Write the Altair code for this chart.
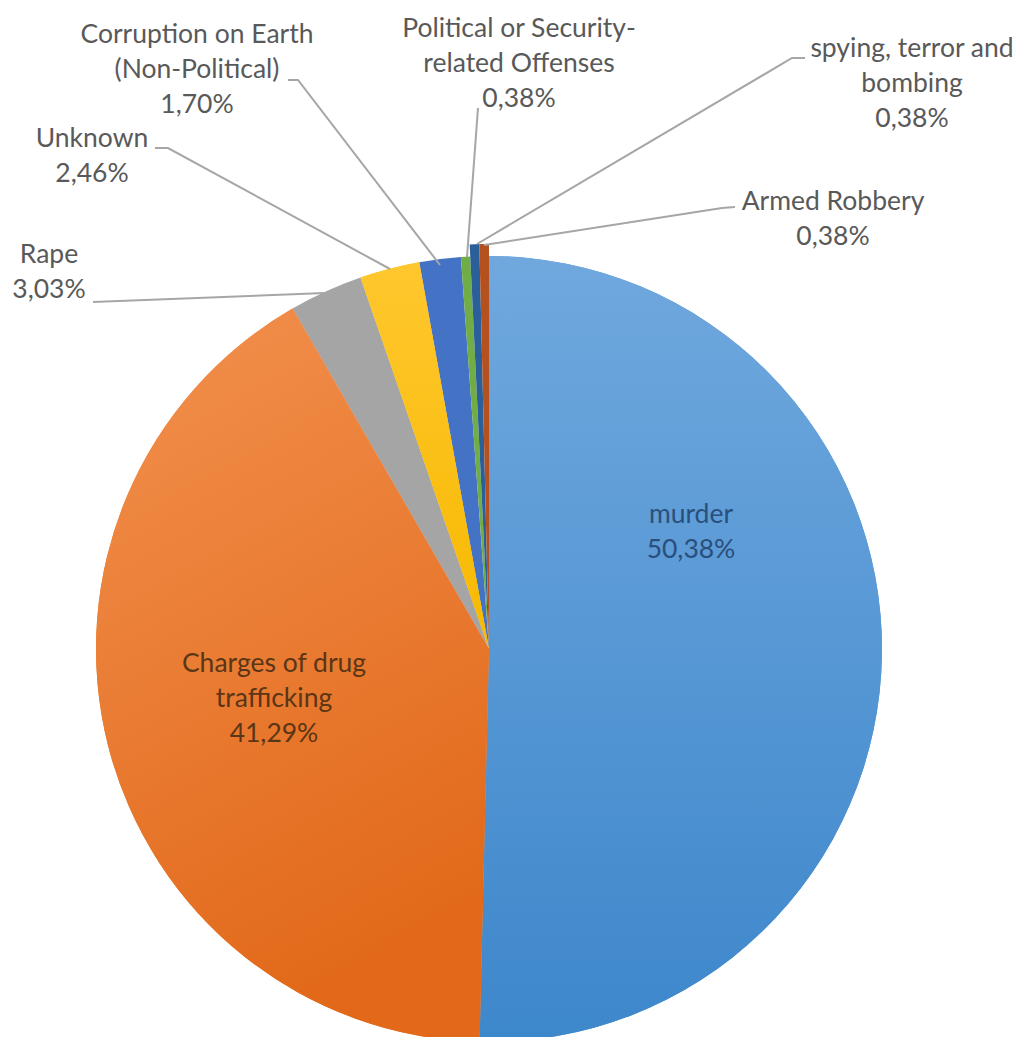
import altair as alt
import pandas as pd

# ---------------- data ----------------
categories = [
    "murder",
    "Charges of drug trafficking",
    "Rape",
    "Unknown",
    "Corruption on Earth (Non-Political)",
    "Political or Security-related Offenses",
    "spying, terror and bombing",
    "Armed Robbery",
]
shares = [50.38, 41.29, 3.03, 2.46, 1.70, 0.38, 0.38, 0.38]
label_lines = [
    ["murder"],
    ["Charges of drug", "trafficking"],
    ["Rape"],
    ["Unknown"],
    ["Corruption on Earth", "(Non-Political)"],
    ["Political or Security-", "related Offenses"],
    ["spying, terror and", "bombing"],
    ["Armed Robbery"],
]

# ---------------- styles / layout ----------------
colors = ["#5b9bd5", "#ed7d31", "#a5a5a5", "#ffc000", "#4472c4", "#70ad47", "#2b5f9a", "#b5501f"]
OFF = 8  # page margin
CX, CY, R = 489 - OFF, 649 - OFF, 393
EXPLODE = 12
FONT = "Lato"
FS = 26.5
LH = 35

# label anchors: centre x, first-line baseline y (page coords)
label_x = [691, 274, 49, 92, 197, 519, 912, 833]
label_y = [523, 672, 263, 147, 43, 37, 57, 210]
label_color = ["#2a4f7c", "#5a3516", "#595959", "#595959", "#595959", "#595959", "#595959", "#595959"]

# leader lines (page coords), per category index
leaders = {
    2: [(93, 302), (325, 293)],
    3: [(155, 148), (168, 148), (390, 269)],
    4: [(288, 80), (298, 80), (440, 265)],
    5: [(478, 108), (467, 257)],
    6: [(805, 58), (792, 58), (477, 244)],
    7: [(735, 207), (722, 208), (484, 245)],
}

pie_df = pd.DataFrame({"name": categories, "share": shares, "idx": list(range(len(categories)))})
total = sum(shares)

lab_rows = []
for i, (name, lines, v) in enumerate(zip(categories, label_lines, shares)):
    pct = f"{v:.2f}".replace(".", ",") + "%"
    lab_rows.append({
        "name": name,
        "text": lines + [pct],
        "x": label_x[i] - OFF,
        "y": label_y[i] - OFF,
        "tc": label_color[i],
    })
lab_df = pd.DataFrame(lab_rows)

line_rows = []
for i, pts in leaders.items():
    for s, (px, py) in enumerate(pts):
        line_rows.append({"id": categories[i], "seq": s, "x": px - OFF, "y": py - OFF})
line_df = pd.DataFrame(line_rows)

grad_blue = {
    "gradient": "linear", "x1": 0, "y1": 0, "x2": 0, "y2": 1,
    "stops": [{"offset": 0, "color": "#70a8de"}, {"offset": 1, "color": "#3d87cb"}],
}
grad_orange = {
    "gradient": "linear", "x1": 0, "y1": 0, "x2": 0.3, "y2": 1,
    "stops": [{"offset": 0, "color": "#f2914f"}, {"offset": 1, "color": "#e2691a"}],
}
grad_gold = {
    "gradient": "linear", "x1": 0, "y1": 0, "x2": 0, "y2": 1,
    "stops": [{"offset": 0, "color": "#ffc72e"}, {"offset": 1, "color": "#f7b900"}],
}

pie_base = alt.Chart(pie_df).transform_window(
    cum="sum(share)", sort=[alt.SortField("idx")], frame=[None, 0]
).transform_calculate(
    start="datum.cum - datum.share",
    rad=f"datum.idx >= 6 ? {R + EXPLODE} : {R}",
).encode(
    theta=alt.Theta("start:Q", scale=alt.Scale(domain=[0, total], zero=True, nice=False)),
    theta2="cum:Q",
    radius=alt.Radius("rad:Q", scale=None),
)

pie = pie_base.mark_arc().encode(
    color=alt.Color("name:N", scale=alt.Scale(domain=categories, range=colors), legend=None),
)

def grad_layer(name, grad):
    return pie_base.mark_arc().encode(
        fill=alt.condition(f"datum.name === '{name}'", alt.value(grad), alt.value("transparent")),
    )

pie_layers = alt.layer(
    pie,
    grad_layer(categories[0], grad_blue),
    grad_layer(categories[1], grad_orange),
    grad_layer(categories[3], grad_gold),
).encode(x=alt.value(CX), y=alt.value(CY))

lines = alt.Chart(line_df).mark_line(color="#a6a6a6", strokeWidth=2).encode(
    x=alt.X("x:Q", scale=None, axis=None),
    y=alt.Y("y:Q", scale=None, axis=None),
    detail="id:N",
    order="seq:Q",
)

texts = alt.Chart(lab_df).mark_text(
    align="center", baseline="alphabetic", font=FONT, fontSize=FS, lineHeight=LH
).encode(
    x=alt.X("x:Q", scale=None, axis=None),
    y=alt.Y("y:Q", scale=None, axis=None),
    text="text",
    color=alt.Color("tc:N", scale=None, legend=None),
)

chart = alt.layer(pie_layers, lines, texts).properties(
    width=1010, height=1029, autosize=alt.AutoSizeParams(type="none"), padding=0
).configure_view(stroke=None)

chart.save("out.html", embed_options={"renderer": "svg", "actions": False})
